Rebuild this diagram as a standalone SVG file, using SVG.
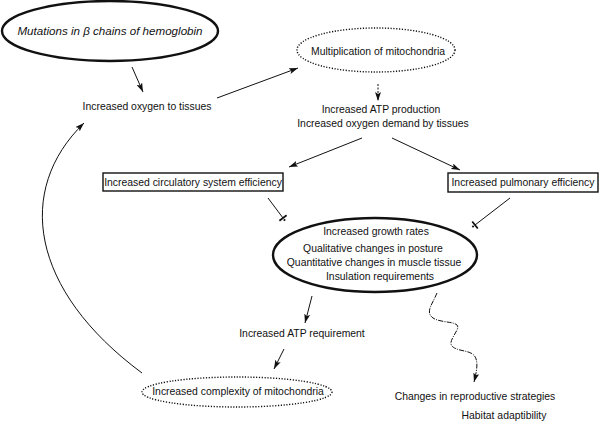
<svg xmlns="http://www.w3.org/2000/svg" width="600" height="424" viewBox="0 0 600 424">
<defs>
<marker id="arr" viewBox="0 0 9 6" refX="9" refY="3" markerWidth="9" markerHeight="6" markerUnits="userSpaceOnUse" orient="auto">
<path d="M0,0 L9,3 L0,6 L2,3 z" fill="#111"/>
</marker>
<marker id="tee" viewBox="-4 -5 8 10" refX="0" refY="0" markerWidth="8" markerHeight="10" markerUnits="userSpaceOnUse" orient="auto">
<path d="M0,-4.5 L0,4.5 M2.5,-1 L2.5,1" stroke="#111" stroke-width="1.8" fill="none"/>
</marker>
<style>
text{font-family:"Liberation Sans",Arial,sans-serif;font-size:10.4px;fill:#111;text-anchor:middle}
.title{font-size:11.6px;font-style:italic}
.thick{fill:none;stroke:#111;stroke-width:2.4}
.dot{fill:none;stroke:#111;stroke-width:1.4;stroke-dasharray:1.2 1.6}
.box{fill:#fff;stroke:#111;stroke-width:1.4}
.c{fill:none;stroke:#111;stroke-width:1}
.a{marker-end:url(#arr)}
.t{marker-end:url(#tee)}
</style>
</defs>
<g id="connectors">
<line class="c a" x1="132" y1="67" x2="143" y2="92"/>
<line class="c a" x1="217" y1="98" x2="298" y2="68"/>
<line class="c a" x1="378" y1="84" x2="378" y2="101" stroke-dasharray="2 1.5"/>
<line class="c a" x1="362" y1="138" x2="289" y2="167"/>
<line class="c a" x1="392" y1="138" x2="460" y2="170"/>
<line class="c t" x1="268" y1="198" x2="283" y2="218"/>
<line class="c t" x1="510" y1="198" x2="475" y2="225"/>
<line class="c a" x1="312" y1="296" x2="305" y2="323"/>
<line class="c a" x1="284" y1="349" x2="274" y2="369"/>
<path class="c a" d="M142,373 C30,290 15,190 84,123"/>
<path class="c a" d="M437,293 C432,305 425,312 433,318 C442,324 462,320 457,330 C452,340 445,346 460,350 C472,353 482,352 474,382" stroke-dasharray="5 1.2 1 1.2"/>
</g>
<g id="n-mutations">
<ellipse class="thick" cx="110" cy="31" rx="108" ry="30"/>
<text class="title" x="110" y="35">Mutations in β chains of hemoglobin</text>
</g>
<g id="n-oxygen">
<text x="147" y="110">Increased oxygen to tissues</text>
</g>
<g id="n-multiplication">
<ellipse class="dot" cx="376" cy="50" rx="79" ry="22"/>
<text x="378" y="55">Multiplication of mitochondria</text>
</g>
<g id="n-atp">
<text x="381" y="113">Increased ATP production</text>
<text x="383" y="127">Increased oxygen demand by tissues</text>
</g>
<g id="n-circulatory">
<rect class="box" x="103" y="173" width="180" height="18"/>
<text x="193" y="186">Increased circulatory system efficiency</text>
</g>
<g id="n-pulmonary">
<rect class="box" x="448" y="173" width="150" height="19"/>
<text x="523" y="186">Increased pulmonary efficiency</text>
</g>
<g id="n-growth">
<ellipse class="thick" cx="375" cy="255" rx="102" ry="37" stroke-width="2"/>
<text x="376" y="235">Increased growth rates</text>
<text x="373" y="252">Qualitative changes in posture</text>
<text x="374" y="266">Quantitative changes in muscle tissue</text>
<text x="380" y="280">Insulation requirements</text>
</g>
<g id="n-atpreq">
<text x="302" y="337">Increased ATP requirement</text>
</g>
<g id="n-complexity">
<ellipse class="dot" cx="237" cy="392" rx="95" ry="15"/>
<text x="238" y="395">Increased complexity of mitochondria</text>
</g>
<g id="n-reproductive">
<text x="475" y="400">Changes in reproductive strategies</text>
<text x="504" y="419">Habitat adaptibility</text>
</g>
</svg>
